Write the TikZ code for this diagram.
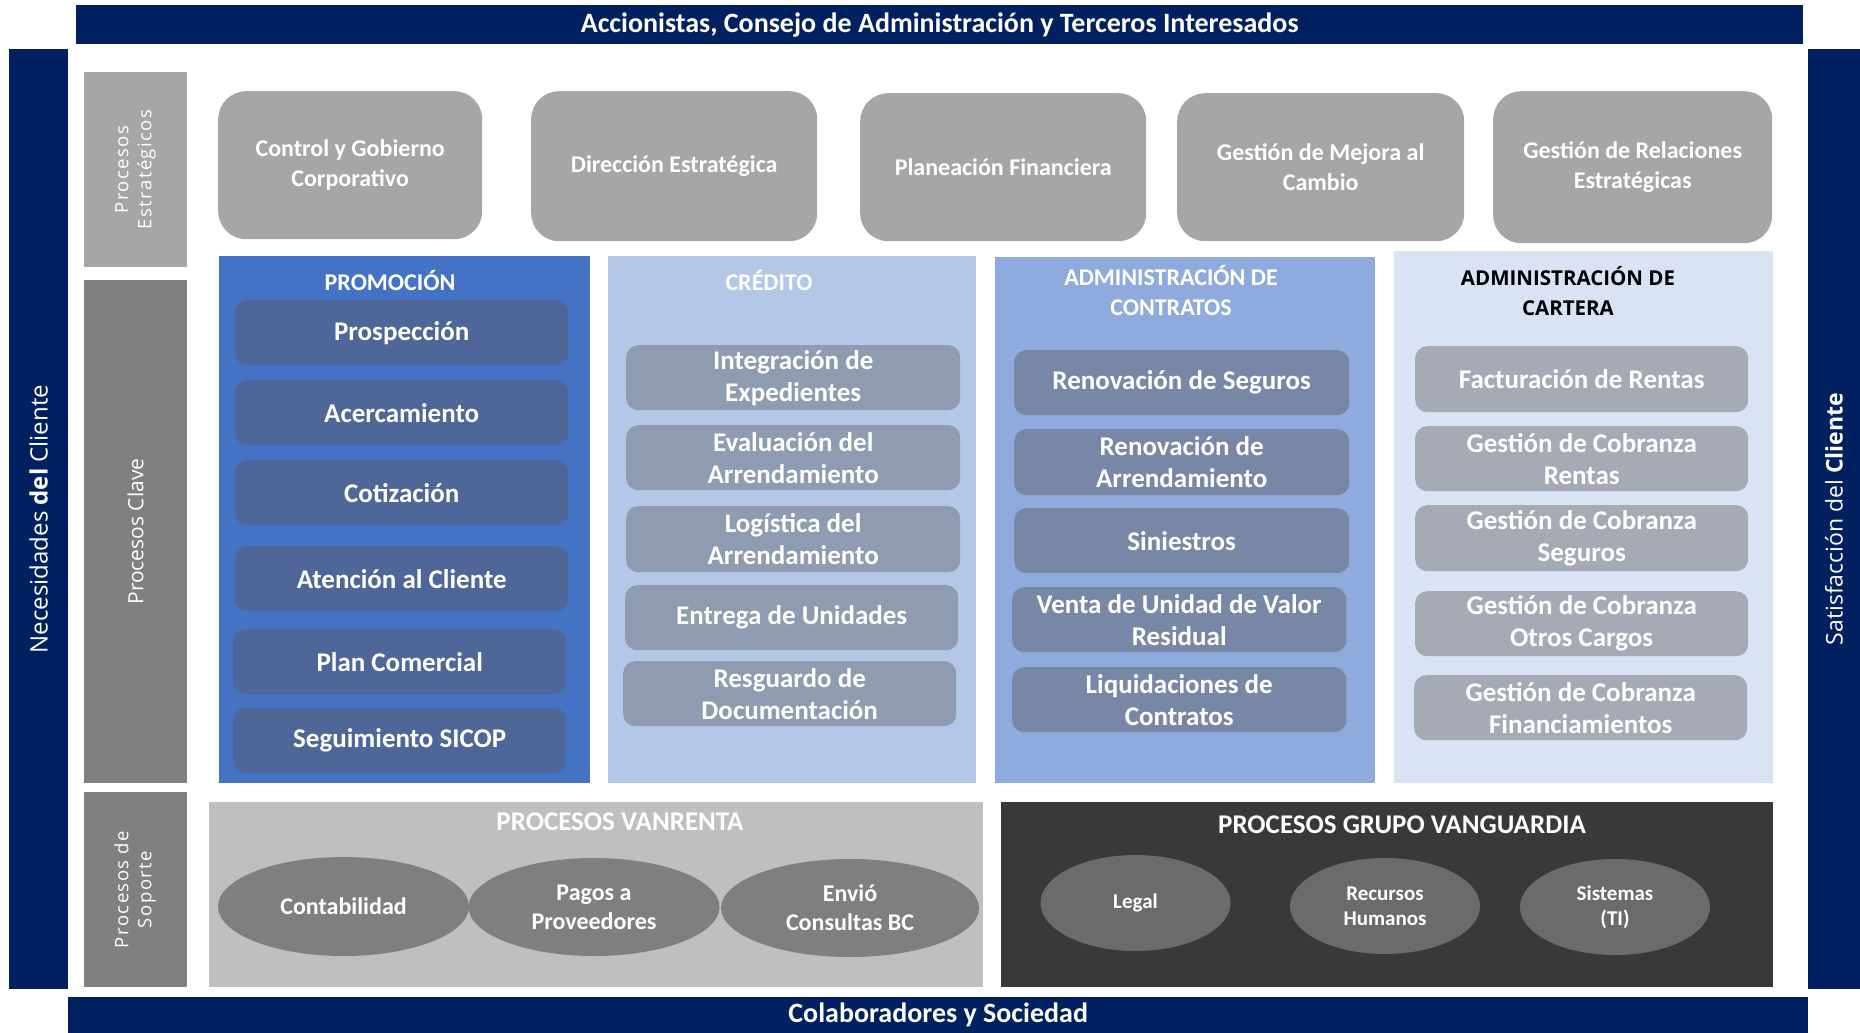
\documentclass[tikz,border=0pt]{standalone}
\usepackage{fontspec}
\setmainfont{Carlito}
\newfontfamily\sidefont{Open Sans}
\newfontfamily\spacedfont[LetterSpace=8.0]{Open Sans}
\usetikzlibrary{shapes.geometric}
\definecolor{navy}{HTML}{002060}
\definecolor{stratgray}{HTML}{A6A6A6}
\definecolor{midgray}{HTML}{808080}
\definecolor{promofill}{HTML}{4472C4}
\definecolor{promoitem}{HTML}{4E6698}
\definecolor{creditofill}{HTML}{B4C7E7}
\definecolor{creditoitem}{HTML}{8E9BB0}
\definecolor{contratofill}{HTML}{8FAADC}
\definecolor{contratoitem}{HTML}{7987A6}
\definecolor{carterafill}{HTML}{DAE3F3}
\definecolor{carteraitem}{HTML}{A6AAB5}
\definecolor{vanrentafill}{HTML}{BFBFBF}
\definecolor{vanrentaoval}{HTML}{7F7F7F}
\definecolor{grupofill}{HTML}{3B3838}
\definecolor{grupooval}{HTML}{6B6B6B}
\begin{document}
\begin{tikzpicture}[x=1pt, y=-1pt,
		every node/.style={inner sep=0pt, align=center, text=white},
		band/.style={fill=navy, font=\bfseries\fontsize{28}{32}\selectfont},
		sideband/.style={fill=navy, rotate=90, minimum width=940, font=\sidefont\fontsize{24}{28}\selectfont},
		tag/.style={rotate=90, minimum height=103},
		strat/.style={fill=stratgray, rounded corners=28pt, anchor=north west, minimum height=148,
			font=\bfseries\fontsize{24}{30}\selectfont},
		panel/.style={anchor=north west},
		head/.style={font=\bfseries\fontsize{24}{30}\selectfont},
		item/.style={rounded corners=12pt, anchor=north west, minimum height=65,
			font=\bfseries\fontsize{27}{32}\selectfont},
		oval/.style={ellipse, font=\bfseries\fontsize{24}{29}\selectfont}]
	\useasboundingbox (0,0) rectangle (1860,1033);
	% bandas exteriores
	\node[band, anchor=north west, minimum width=1727, minimum height=39] (accionistas) at (76,5)
		{Accionistas, Consejo de Administración y Terceros Interesados};
	\node[band, anchor=north west, minimum width=1740, minimum height=36] (colaboradores) at (68,997)
		{Colaboradores y Sociedad};
	\node[sideband, minimum height=59] (necesidades) at (38.5,519) {Necesidades \textbf{del} Cliente};
	\node[sideband, minimum height=52, font=\sidefont\fontsize{23}{28}\selectfont]
		(satisfaccion) at (1834,519) {Satisfacción del \textbf{Cliente}};
	% etiquetas de nivel
	\node[tag, fill=stratgray, minimum width=195, font=\spacedfont\fontsize{18.5}{23}\selectfont]
		(estrategicos) at (135.5,169.5) {Procesos\\Estratégicos};
	\node[tag, fill=midgray, minimum width=503, font=\sidefont\fontsize{21}{25}\selectfont]
		(clave) at (135.5,531.5) {Procesos Clave};
	\node[tag, fill=midgray, minimum width=195, font=\spacedfont\fontsize{18.5}{23}\selectfont]
		(soporte) at (135,889.5) {Procesos de\\Soporte};
	% procesos estrategicos
	\node[strat, minimum width=264] (control) at (218,91) {Control y Gobierno\\Corporativo};
	\node[strat, minimum width=286, minimum height=150] (direccion) at (531,91) {Dirección Estratégica};
	\node[strat, minimum width=286] (planeacion) at (860,93) {Planeación Financiera};
	\node[strat, minimum width=287] (mejora) at (1177,93) {Gestión de Mejora al\\Cambio};
	\node[strat, minimum width=279, minimum height=152] (relaciones) at (1493,91) {Gestión de Relaciones\\Estratégicas};
	% procesos clave: paneles
	\node[panel, fill=promofill, minimum width=371, minimum height=527] (promocion) at (219,256) {};
	\node[panel, fill=creditofill, minimum width=368, minimum height=527] (credito) at (608,256) {};
	\node[panel, fill=contratofill, minimum width=380, minimum height=526] (contratos) at (995,257) {};
	\node[panel, fill=carterafill, minimum width=379, minimum height=532] (cartera) at (1394,251) {};
	\node[head] (promotitle) at (390,281) {PROMOCIÓN};
	\node[head] (creditotitle) at (769,281) {CRÉDITO};
	\node[head] (contratostitle) at (1171,291) {ADMINISTRACIÓN DE\\CONTRATOS};
	\node[head, text=black, font=\sidefont\bfseries\fontsize{20.5}{30}\selectfont]
		(carteratitle) at (1568,291) {ADMINISTRACIÓN DE\\CARTERA};
	% promocion
	\node[item, fill=promoitem, minimum width=333] (prospeccion) at (235,300) {Prospección};
	\node[item, fill=promoitem, minimum width=333] (acercamiento) at (235,380) {Acercamiento};
	\node[item, fill=promoitem, minimum width=333] (cotizacion) at (235,460) {Cotización};
	\node[item, fill=promoitem, minimum width=333] (atencion) at (235,546) {Atención al Cliente};
	\node[item, fill=promoitem, minimum width=333] (plan) at (233,629) {Plan Comercial};
	\node[item, fill=promoitem, minimum width=333] (sicop) at (233,708) {Seguimiento SICOP};
	% credito
	\node[item, fill=creditoitem, minimum width=334] (integracion) at (626,345) {Integración de\\Expedientes};
	\node[item, fill=creditoitem, minimum width=334] (evaluacion) at (626,425) {Evaluación del\\Arrendamiento};
	\node[item, fill=creditoitem, minimum width=334, minimum height=66] (logistica) at (626,506) {Logística del\\Arrendamiento};
	\node[item, fill=creditoitem, minimum width=333] (entrega) at (625,585) {Entrega de Unidades};
	\node[item, fill=creditoitem, minimum width=333] (resguardo) at (623,661) {Resguardo de\\Documentación};
	% administracion de contratos
	\node[item, fill=contratoitem, minimum width=335] (seguros) at (1014,350) {Renovación de Seguros};
	\node[item, fill=contratoitem, minimum width=335, minimum height=66] (renovacion) at (1014,429) {Renovación de\\Arrendamiento};
	\node[item, fill=contratoitem, minimum width=335] (siniestros) at (1014,508) {Siniestros};
	\node[item, fill=contratoitem, minimum width=334] (venta) at (1012,587) {Venta de Unidad de Valor\\Residual};
	\node[item, fill=contratoitem, minimum width=334] (liquidaciones) at (1012,667) {Liquidaciones de\\Contratos};
	% administracion de cartera
	\node[item, fill=carteraitem, minimum width=333, minimum height=66] (facturacion) at (1415,346) {Facturación de Rentas};
	\node[item, fill=carteraitem, minimum width=333] (cobrentas) at (1415,426) {Gestión de Cobranza\\Rentas};
	\node[item, fill=carteraitem, minimum width=333, minimum height=66] (cobseguros) at (1415,505) {Gestión de Cobranza\\Seguros};
	\node[item, fill=carteraitem, minimum width=333] (cobotros) at (1415,591) {Gestión de Cobranza\\Otros Cargos};
	\node[item, fill=carteraitem, minimum width=333] (cobfinan) at (1414,675) {Gestión de Cobranza\\Financiamientos};
	% procesos de soporte
	\node[panel, fill=vanrentafill, minimum width=774, minimum height=185] (vanrenta) at (209,802) {};
	\node[panel, fill=grupofill, minimum width=772, minimum height=185] (vanguardia) at (1001,802) {};
	\node[head, font=\bfseries\fontsize{27}{30}\selectfont] (vanrentatitle) at (620,822) {PROCESOS VANRENTA};
	\node[head, font=\bfseries\fontsize{27}{30}\selectfont] (vanguardiatitle) at (1402,825) {PROCESOS GRUPO VANGUARDIA};
	\node[oval, fill=vanrentaoval, minimum width=251, minimum height=99] (contabilidad) at (343.5,906.5) {Contabilidad};
	\node[oval, fill=vanrentaoval, minimum width=251, minimum height=98] (pagos) at (594,907) {Pagos a\\Proveedores};
	\node[oval, fill=vanrentaoval, minimum width=258, minimum height=98] (envio) at (850,908) {Envió\\Consultas BC};
	\node[oval, fill=grupooval, minimum width=190, minimum height=96, font=\bfseries\fontsize{21}{25}\selectfont]
		(legal) at (1135.5,903) {Legal};
	\node[oval, fill=grupooval, minimum width=190, minimum height=96, font=\bfseries\fontsize{21}{25}\selectfont]
		(humanos) at (1385,906) {Recursos\\Humanos};
	\node[oval, fill=grupooval, minimum width=190, minimum height=96, font=\bfseries\fontsize{21}{25}\selectfont]
		(sistemas) at (1615,907) {Sistemas\\(TI)};
\end{tikzpicture}
\end{document}
